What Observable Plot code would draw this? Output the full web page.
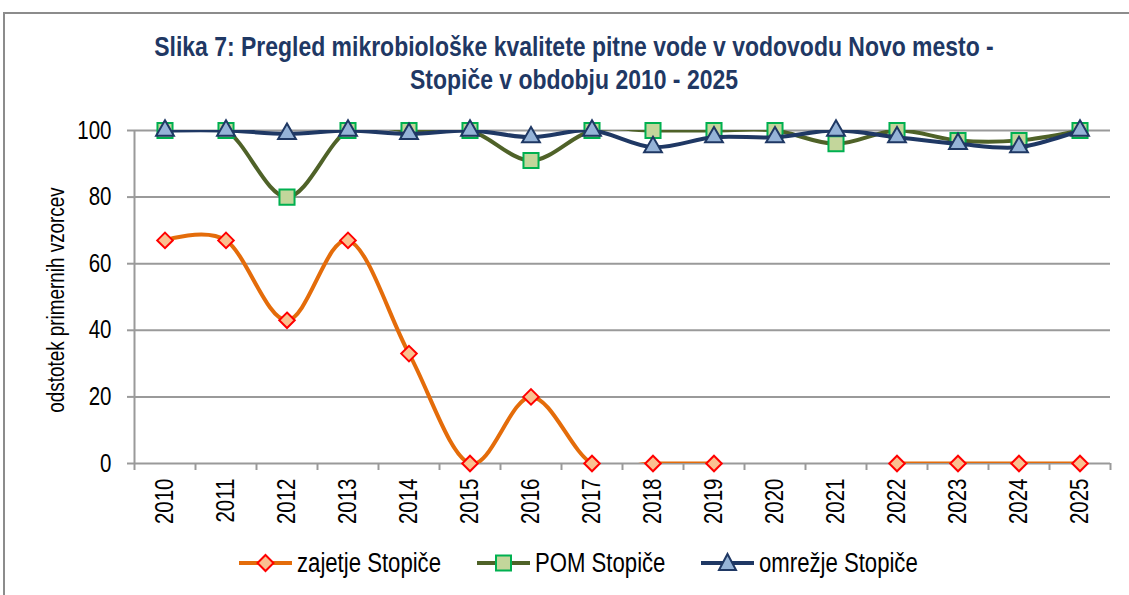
<!DOCTYPE html>
<html><head><meta charset="utf-8">
<script src="https://cdn.jsdelivr.net/npm/d3@7"></script>
<script src="https://cdn.jsdelivr.net/npm/@observablehq/plot@0.6"></script>
<style>
body{margin:0;background:#fff;}
#wrap{position:relative;width:1129px;height:595px;overflow:hidden;font-family:"Liberation Sans Narrow","Arial Narrow","Liberation Sans",sans-serif;}
#border{position:absolute;left:3px;top:12px;width:1140px;height:620px;border:2px solid #8c8c8c;box-sizing:border-box;}
#title{position:absolute;top:30px;left:0;width:1148px;text-align:center;font-weight:bold;font-size:28px;line-height:33px;color:#1F3864;transform:scaleX(0.82);transform-origin:574px 50%;}
#ylabel{position:absolute;left:56px;top:300px;transform:translate(-50%,-50%) rotate(-90deg) scaleX(0.82);white-space:nowrap;font-size:23px;color:#000;}
#chart{position:absolute;left:0;top:0;}
.leg{position:absolute;top:548px;height:30px;display:flex;align-items:center;font-size:27px;color:#000;white-space:nowrap;}
.leg svg{margin-right:4px;flex:none;}
.leg span{display:inline-block;transform:scaleX(0.82);transform-origin:0 50%;}
</style></head>
<body>
<div id="wrap">
  <div id="border"></div>
  <div id="chart"></div>
  <div id="title">Slika 7: Pregled mikrobiološke kvalitete pitne vode v vodovodu Novo mesto -<br>Stopiče v obdobju 2010 - 2025</div>
  <div id="ylabel">odstotek primernih vzorcev</div>
  <div class="leg" style="left:238px"><svg width="55" height="30"><line x1="1" y1="15" x2="54" y2="15" stroke="#E46C0A" stroke-width="4"/><path d="M27.5,7 L35.5,15 L27.5,23 L19.5,15 Z" fill="#FAC090" stroke="#FF0000" stroke-width="2"/></svg><span>zajetje Stopiče</span></div>
  <div class="leg" style="left:476px"><svg width="55" height="30"><line x1="1" y1="15" x2="54" y2="15" stroke="#4F6228" stroke-width="4"/><rect x="20" y="7.5" width="15" height="15" fill="#C3D69B" stroke="#00B050" stroke-width="2"/></svg><span>POM Stopiče</span></div>
  <div class="leg" style="left:700px"><svg width="55" height="30"><line x1="1" y1="15" x2="54" y2="15" stroke="#1F3864" stroke-width="4"/><path d="M27.5,6 L36,22 L19,22 Z" fill="#95B3D7" stroke="#1F3864" stroke-width="2"/></svg><span>omrežje Stopiče</span></div>
</div>
<script>
const years = [2010,2011,2012,2013,2014,2015,2016,2017,2018,2019,2020,2021,2022,2023,2024,2025];
const zajetje = [67,67,43,67,33,0,20,0,0,0,null,null,0,0,0,0];
const pom = [100,100,80,100,100,100,91,100,100,100,100,96,100,97,97,100];
const omrezje = [100,100,99,100,99,100,98,100,95,98,98,100,98,96,95,100];
const yTicks = [0,20,40,60,80,100];

const toRows = arr => years.map((year, i) => ({year, value: arr[i]}));
const zRows = toRows(zajetje), pRows = toRows(pom), oRows = toRows(omrezje);
const boundaries = [...years.map(y => y - 0.5), years[years.length-1] + 0.5];
const FONT = '"Liberation Sans Narrow","Arial Narrow","Liberation Sans",sans-serif';
const GRID = "#9a9a9a";

const chart = Plot.plot({
  width: 1129, height: 595,
  marginTop: 130, marginBottom: 132, marginLeft: 134, marginRight: 19,
  x: {type: "linear", domain: [boundaries[0], boundaries[boundaries.length-1]]},
  y: {domain: [0, 100]},
  style: {fontFamily: FONT, fontSize: "25px", color: "#000", background: "transparent", overflow: "visible"},
  marks: [
    Plot.ruleY(yTicks, {stroke: GRID, strokeWidth: 2}),
    Plot.ruleX([boundaries[0]], {stroke: GRID, strokeWidth: 2}),
    Plot.axisY(yTicks, {tickSize: 7, stroke: GRID, strokeWidth: 2, tickFormat: () => "", label: null}),
    Plot.axisY(yTicks, {tickSize: 0, tickPadding: 23, fontSize: 25, fill: "#000", label: null, tickFormat: d => String(d)}),
    Plot.axisX(boundaries, {tickSize: 7, stroke: GRID, strokeWidth: 2, tickFormat: () => "", label: null}),
    Plot.axisX(years, {tickSize: 0, tickRotate: -90, tickPadding: 15, fontSize: 25, fill: "#000", label: null, tickFormat: d => String(d)}),
    Plot.lineY(zRows, {x: "year", y: "value", stroke: "#E46C0A", strokeWidth: 4, curve: "cardinal", clip: true}),
    Plot.dot(zRows, {x: "year", y: "value", symbol: "diamond2", r: 7, fill: "#FAC090", stroke: "#FF0000", strokeWidth: 2}),
    Plot.lineY(pRows, {x: "year", y: "value", stroke: "#4F6228", strokeWidth: 4, curve: "cardinal", clip: true}),
    Plot.dot(pRows, {x: "year", y: "value", symbol: "square", r: 8.5, fill: "#C3D69B", stroke: "#00B050", strokeWidth: 2}),
    Plot.lineY(oRows, {x: "year", y: "value", stroke: "#1F3864", strokeWidth: 4, curve: "cardinal", clip: true}),
    Plot.dot(oRows, {x: "year", y: "value", symbol: "triangle2", r: 8.5, fill: "#95B3D7", stroke: "#1F3864", strokeWidth: 2})
  ]
});
document.getElementById("chart").append(chart);
// condense tick label glyphs horizontally (no narrow font installed)
chart.querySelectorAll('g[aria-label*="tick label"] text').forEach(t => {
  if (!t.textContent) return;
  const len = t.getComputedTextLength();
  if (len > 0) {
    t.setAttribute("textLength", (len * 0.82).toFixed(2));
    t.setAttribute("lengthAdjust", "spacingAndGlyphs");
  }
});
</script>
</body></html>
